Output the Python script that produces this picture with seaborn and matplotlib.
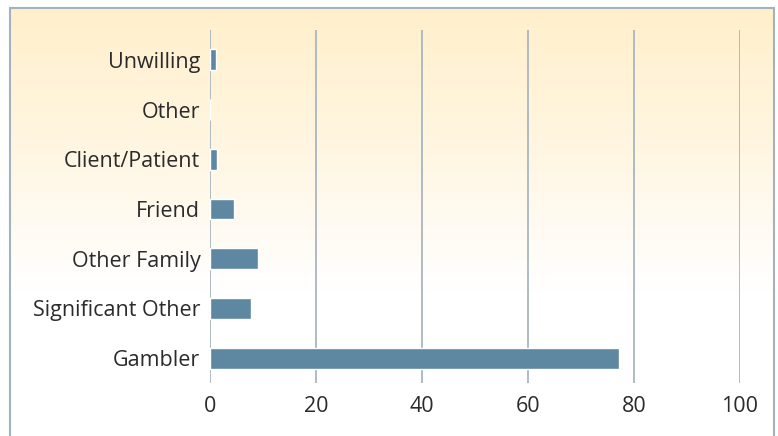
import matplotlib
matplotlib.use("Agg")
import matplotlib.pyplot as plt
from matplotlib.colors import LinearSegmentedColormap
from matplotlib.patches import Rectangle
import seaborn as sns
import numpy as np
import pandas as pd

categories = ["Unwilling", "Other", "Client/Patient", "Friend",
              "Other Family", "Significant Other", "Gambler"]
values = [1.1, 0.0, 1.4, 4.6, 9.1, 7.8, 77.2]
x_ticks = [0, 20, 40, 60, 80, 100]

df = pd.DataFrame({"source": categories, "pct": values})

sns.set_theme(style="white")
plt.rcParams["font.family"] = ["Open Sans", "DejaVu Sans"]

W, H = 778, 436
fig = plt.figure(figsize=(W / 100, H / 100), dpi=100)

# background panel with yellow-to-white gradient
bg = fig.add_axes([10 / W, 0, 764 / W, (H - 8) / H], zorder=0)
grad = np.linspace(0, 1, 256).reshape(-1, 1)
cmap = LinearSegmentedColormap.from_list(
    "bg", [(0, "#FFEFCB"), (0.33, "#FFF6E2"), (0.66, "#FFFFFF"), (1, "#FFFFFF")])
bg.imshow(grad, aspect="auto", cmap=cmap, extent=[0, 1, 0, 1], origin="upper")
bg.set_xlim(0, 1)
bg.set_ylim(0, 1)
bg.axis("off")
fig.add_artist(Rectangle((10 / W, -0.01), 764 / W, (H - 8) / H + 0.01,
                         transform=fig.transFigure, fill=False,
                         edgecolor="#A3B3BE", linewidth=1.5, zorder=1))

ax = fig.add_axes([210 / W, 1 - 383 / H, (739.7 - 210) / W, (383 - 30) / H], zorder=2)
ax.patch.set_alpha(0)
sns.barplot(data=df, x="pct", y="source", order=categories, color="#5E87A1",
            width=0.42, saturation=1, ax=ax, zorder=3)

ax.set_xlim(0, 100)
ax.set_ylim(6.5, -0.6)
ax.set_xticks(x_ticks)
ax.set_xlabel("")
ax.set_ylabel("")
for t in x_ticks:
    ax.axvline(t, color="#A9B6BF", linewidth=1.3, zorder=1)
for s in ax.spines.values():
    s.set_visible(False)
ax.tick_params(axis="both", length=0, labelsize=15.5, colors="#2B2B2B")
ax.tick_params(axis="y", pad=7)
ax.tick_params(axis="x", pad=9)

fig.savefig("out.png", dpi=100)
